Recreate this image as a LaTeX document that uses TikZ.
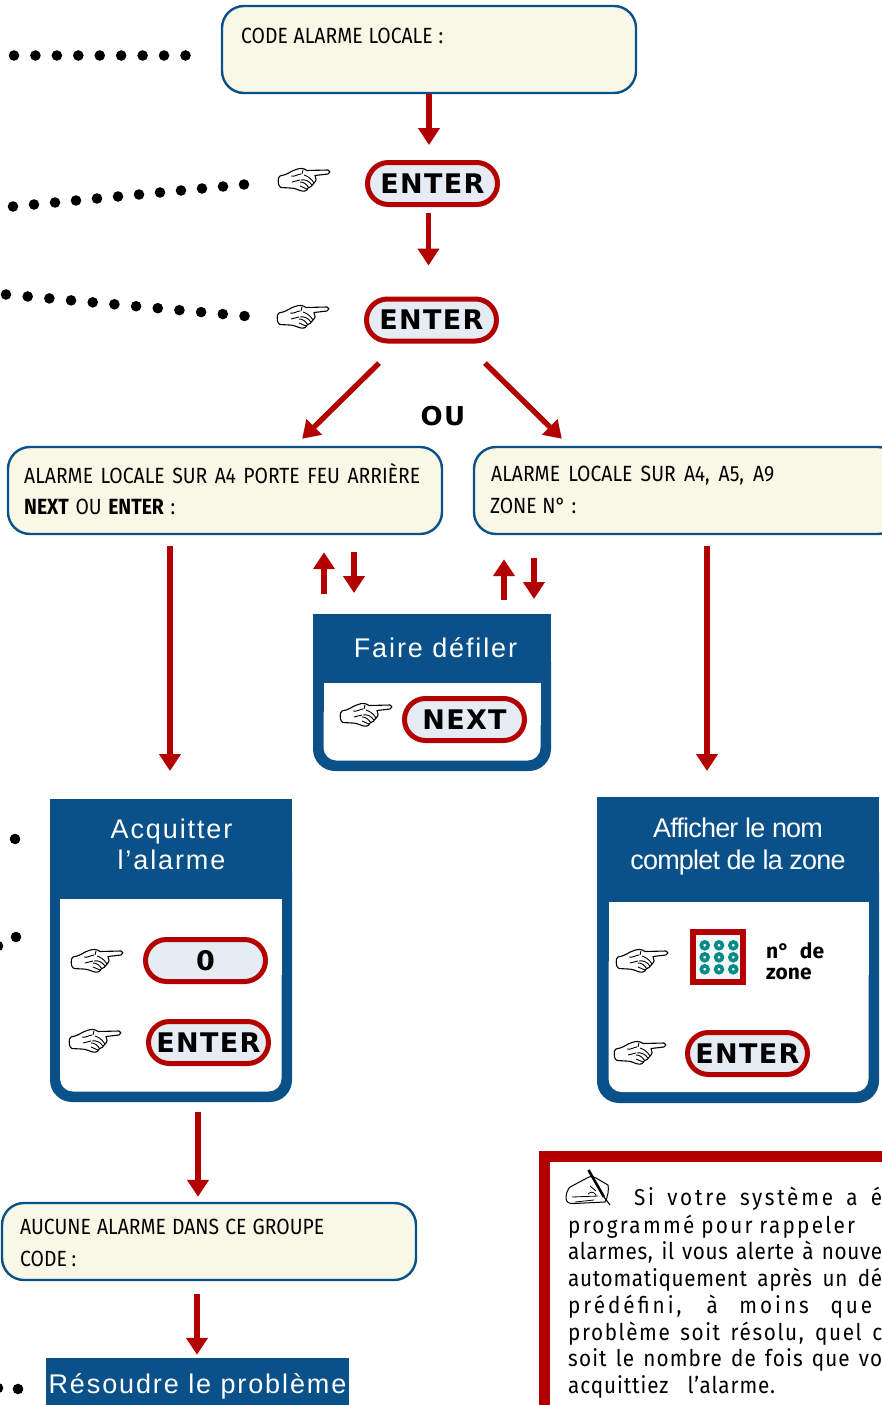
\documentclass[tikz,border=0pt]{standalone}
\usepackage{fontspec}
\usetikzlibrary{arrows.meta,calc}
\setmainfont{Fira Sans}
\newfontfamily\bxf[FakeStretch=0.88]{Fira Sans}
\newfontfamily\ntf[FakeStretch=0.9]{Fira Sans}
\newfontfamily\hdf[LetterSpace=7]{Liberation Sans}
\newfontfamily\hdtf[LetterSpace=-3]{Liberation Sans}
\newfontfamily\pillf[LetterSpace=5]{DejaVu Sans}
\definecolor{navy}{HTML}{0A5089}
\definecolor{crim}{HTML}{B30000}
\definecolor{creme}{HTML}{F9F8E6}
\definecolor{pillbg}{HTML}{E6ECF3}
\definecolor{teal2}{HTML}{0A8A86}
\newcommand{\W}[2]{\makebox[#1pt][s]{#2}}
\newcommand{\NL}[3]{\makebox[#1pt][s]{\addfontfeature{LetterSpace=#2}#3}}
\newcommand{\dotrow}[5]{\foreach \i in {0,...,#5}{\fill ({#1+(#3-#1)*\i/#5},{#2+(#4-#2)*\i/#5}) circle (5.3pt);}}
\tikzset{
  x=1pt,y=-1pt,
  lcd/.style={draw=navy,fill=creme,line width=2.4pt,rounded corners=22pt,inner sep=0pt},
  pill/.style={draw=crim,fill=pillbg,line width=5pt,rounded corners=21pt,inner sep=0pt,minimum height=42pt,font=\pillf\bfseries\fontsize{27}{27}\selectfont,text=black},
  arr/.style={draw=crim,line width=5.4pt,-{Triangle[width=21pt,length=17pt]}},
  tx/.style={anchor=base west,inner sep=0pt,font=\bxf\fontsize{22}{22}\selectfont,text=black},
  zn/.style={anchor=base west,inner sep=0pt,font=\rmfamily\bfseries\fontsize{21}{21}\selectfont,text=black},
  nt/.style={anchor=base west,inner sep=0pt,font=\ntf\fontsize{23}{23}\selectfont,text=black},
  hd/.style={anchor=base,inner sep=0pt,font=\hdf\fontsize{27}{27}\selectfont,text=white},
  hdt/.style={anchor=base,inner sep=0pt,font=\hdtf\fontsize{27}{27}\selectfont,text=white},
  ghost/.style={inner sep=0pt,outer sep=0pt},
  hand/.pic={
    \draw[line width=1.1pt,fill=white,line join=round]
      (0.5,10) .. controls (0.5,8) and (3,7.5) .. (6,7) .. controls (10,6) and (13,3) .. (18,1.5)
      .. controls (22,0) and (26,0) .. (29,2.5) -- (50,2) .. controls (52.5,2) and (52.5,5.5) .. (50,6)
      -- (37,7.5) .. controls (38,10) and (39,13) .. (36,15) .. controls (35,18) and (32,19) .. (30,20)
      .. controls (29,23) and (26,24) .. (22,22.5) .. controls (18,21) and (16,20) .. (12,20)
      -- (3,19.5) .. controls (0,18) and (0,14) .. (0.5,10) -- cycle;
    \draw[line width=.9pt] (13,8) .. controls (17,9) and (20,6) .. (23,6) (24,6) -- (25,2)
      (26,7) .. controls (29,8) and (33,10) .. (36,15) (23,12) .. controls (27,11) and (31,13) .. (34,17)
      (22,14) .. controls (26,14) and (28,16) .. (31,20) (14,14) -- (22,12) (22,18) -- (29,21);
  },
  writer/.pic={
    \draw[line width=1pt,fill=white,line join=round]
      (0,27) .. controls (0,22) and (2,18) .. (4,16) -- (22,6.5) .. controls (25,5) and (28,5) .. (30,7)
      -- (42,14) .. controls (43,18) and (42,26) .. (39,31) -- (8,32.5) .. controls (3,33) and (0,31) .. (0,27) -- cycle;
    \draw[line width=.8pt] (6,26) -- (32,25) (9,31) -- (28,29) (24,15) -- (30,20) (22,23) .. controls (25,20) and (28,21) .. (30,24);
    \draw[line width=2.6pt] (22.5,-1) -- (38,26);
    \draw[line width=1.1pt] (38,26) -- (44,34);
  }
}
\begin{document}
\begin{tikzpicture}
\useasboundingbox (0,0) rectangle (882,1405);
\clip (0,0) rectangle (882,1405);
% leader dots
\dotrow{14}{55.5}{185.5}{55.5}{8}
\dotrow{13}{206.5}{244}{184.5}{11}
\dotrow{6}{294.5}{244.5}{316}{11}
\fill (15,839) circle (5.3pt) (16,937) circle (5.3pt) (-2,946) circle (5.3pt) (-2,1388) circle (5.3pt) (18,1389) circle (5.3pt);

% top boxes
\node[lcd,minimum width=414pt,minimum height=87pt] (code) at (429,49.5) {};
\node[tx] (codet) at (241,43.5) {\W{202}{CODE ALARME LOCALE :}};
\node[pill,minimum width=130pt] (ent1) at (432.5,183.5) {ENTER};
\node[pill,minimum width=130pt] (ent2) at (431.5,320) {ENTER};
\pic (h1) at (278,168) {hand};
\pic (h2) at (277,305) {hand};

\node[anchor=base,inner sep=0pt,font=\pillf\bfseries\fontsize{26}{26}\selectfont] (ou) at (443,425) {OU};

% alarm boxes
\node[lcd,minimum width=434pt,minimum height=87pt] (boxa) at (225,490.5) {};
\node[lcd,minimum width=426pt,minimum height=87pt] (boxb) at (687,490.5) {};
\node[tx] (at1) at (24,483) {\W{396}{ALARME LOCALE SUR A4 PORTE FEU ARRIÈRE}};
\node[tx] (at2) at (24,514) {\W{151}{\textbf{NEXT} OU \textbf{ENTER} :}};
\node[tx] (bt1) at (491,481) {\W{283}{ALARME LOCALE SUR A4, A5, A9}};
\node[tx] (bt2) at (490,513) {\W{86}{ZONE N° :}};

% Faire défiler
\node[ghost,minimum width=238pt,minimum height=157pt] (faire) at (432,692.5) {};
\fill[navy,rounded corners=22pt] (313,640) -- (313,771) -- (551,771) -- (551,640) -- cycle;
\fill[navy] (313,614) rectangle (551,683);
\fill[white,rounded corners=13pt] (323.5,700) -- (323.5,760.5) -- (540.5,760.5) -- (540.5,700) -- cycle;
\fill[white] (323.5,683) rectangle (540.5,725);
\node[hd] (fairet) at (435.5,657) {Faire défiler};
\pic (h3) at (340,703) {hand};
\node[pill,minimum width=120pt] (next) at (464.5,719.5) {NEXT};

% Acquitter
\node[ghost,minimum width=242pt,minimum height=303pt] (acq) at (171,950.5) {};
\fill[navy,rounded corners=22pt] (50,850) -- (50,1102) -- (292,1102) -- (292,850) -- cycle;
\fill[navy] (50,799) rectangle (292,899);
\fill[white,rounded corners=13pt] (60,950) -- (60,1091.5) -- (281.5,1091.5) -- (281.5,950) -- cycle;
\fill[white] (60,899) rectangle (281.5,975);
\node[hd] (acqt1) at (171.5,838) {Acquitter};
\node[hd] (acqt2) at (171.5,869) {l’alarme};
\pic (h4) at (71,949) {hand};
\pic (h5) at (69,1029) {hand};
\node[pill,minimum width=120pt] (zero) at (205.5,960.5) {0};
\node[pill,minimum width=120pt] (ent3) at (208.5,1042.5) {ENTER};

% Afficher
\node[ghost,minimum width=282pt,minimum height=306pt] (aff) at (738,950) {};
\fill[navy,rounded corners=22pt] (597,850) -- (597,1103) -- (879,1103) -- (879,850) -- cycle;
\fill[navy] (597,797) rectangle (879,902);
\fill[white,rounded corners=13pt] (608.5,950) -- (608.5,1092) -- (868.5,1092) -- (868.5,950) -- cycle;
\fill[white] (608.5,902) rectangle (868.5,975);
\node[hdt] (afft1) at (738,837) {Afficher le nom};
\node[hdt] (afft2) at (738,869) {complet de la zone};
\pic (h6) at (616,949) {hand};
\pic (h7) at (614,1041) {hand};
\node[draw=crim,fill=white!94!teal2,line width=5.5pt,minimum width=50pt,minimum height=50pt,inner sep=0pt] (pad) at (718,957) {};
\foreach \xx in {704.7,719,733.3}\foreach \yy in {945.3,957.3,969.3}{
  \draw[teal2,line width=3.6pt,fill=white] (\xx,\yy) circle (3.4pt);}
\node[zn] (pt1) at (766,958) {\W{58}{n° de}};
\node[zn] (pt2) at (766,979) {zone};
\node[pill,minimum width=120pt] (ent4) at (747.5,1053.5) {ENTER};

% bottom
\node[lcd,minimum width=414pt,minimum height=77pt] (none) at (209,1241.5) {};
\node[tx] (nt1) at (20,1234) {\W{304}{AUCUNE ALARME DANS CE GROUPE}};
\node[tx] (nt2) at (20,1266) {\W{56}{CODE :}};
\node[fill=navy,minimum width=303pt,minimum height=47pt,inner sep=0pt] (res) at (197.5,1381.5) {};
\node[hd] (rest) at (197.5,1393) {Résoudre le problème};

% note
\node[draw=crim,fill=white,line width=10.5pt,minimum width=400pt,minimum height=300pt,inner sep=0pt,anchor=north west] (note) at (539,1151) {};
\pic (wr) at (566,1171) {writer};
\node[nt] (n1) at (634,1205) {\NL{248}{12}{Si votre système a é}};
\node[nt] (n2) at (568,1233) {\NL{287}{10}{programmé pour rappeler}};
\node[nt] (n3) at (568,1259) {\NL{314}{3}{alarmes, il vous alerte à nouve}};
\node[nt] (n4) at (568,1286) {\NL{314}{3}{automatiquement après un dé}};
\node[nt] (n5) at (568,1313) {\NL{304}{13}{prédéfini, à moins que}};
\node[nt] (n6) at (568,1340) {\NL{314}{7}{problème soit résolu, quel c}};
\node[nt] (n7) at (568,1366) {\NL{314}{5}{soit le nombre de fois que vo}};
\node[nt] (n8) at (568,1393) {\NL{207}{4}{acquittiez \ l’alarme.}};

% connectors
\draw[arr,shorten >=15pt] (code.south) -- (code.south |- ent1.north);
\draw[arr,shorten <=6pt,shorten >=31pt] ([xshift=-4pt]ent1.south) -- ([xshift=-3pt]ent2.north);
\draw[arr,shorten <=28pt,shorten >=10pt] ([xshift=-32.5pt]ent2.south) -- ([xshift=70pt]boxa.north);
\draw[arr,shorten <=28pt,shorten >=10pt] ([xshift=33.5pt]ent2.south) -- ([xshift=-118pt]boxb.north);
\draw[arr,shorten <=11pt,shorten >=28pt] ([xshift=-1pt]boxa.south -| acq.north) -- ([xshift=-1pt]acq.north);
\draw[arr,shorten <=11pt,shorten >=26pt] ([xshift=-31pt]boxb.south -| aff.north) -- ([xshift=-31pt]aff.north);
\draw[arr,shorten <=20pt,shorten >=17pt] (faire.north -| 324,0) -- (boxa.south -| 324,0);
\draw[arr,shorten <=17pt,shorten >=21pt] (boxa.south -| 354,0) -- (faire.north -| 354,0);
\draw[arr,shorten <=14pt,shorten >=24pt] (faire.north -| 504,0) -- (boxb.south -| 504,0);
\draw[arr,shorten <=23pt,shorten >=15pt] (boxb.south -| 534,0) -- (faire.north -| 534,0);
\draw[arr,shorten <=10pt,shorten >=5pt] ([xshift=27pt]acq.south) -- ([xshift=-11pt]none.north);
\draw[arr,shorten <=13pt,shorten >=3pt] ([xshift=-12pt]none.south) -- ([xshift=-0.5pt]res.north);
\end{tikzpicture}
\end{document}
